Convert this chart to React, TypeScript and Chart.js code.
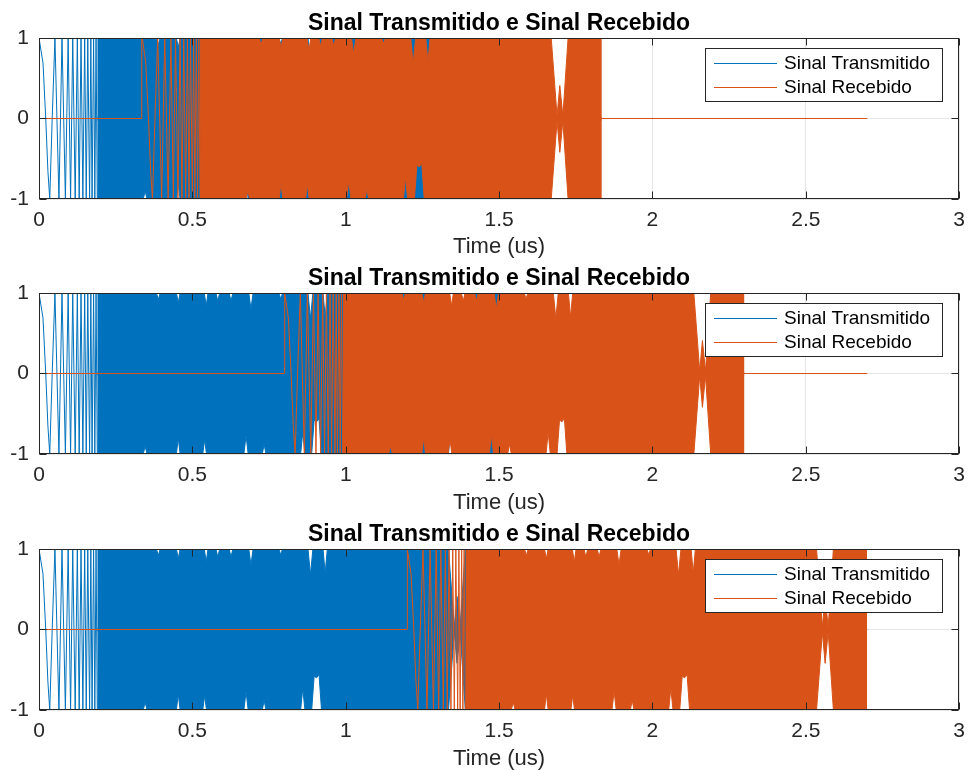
import React, { useEffect, useRef } from "react";
import { Chart, registerables } from "chart.js";

Chart.register(...registerables);

// ---------- text ----------
const panelTitle = "Sinal Transmitido e Sinal Recebido";
const xAxisLabel = "Time (us)";
const seriesNames = ["Sinal Transmitido", "Sinal Recebido"];
const seriesColors = ["#0072BD", "#D95319"];

// ---------- axes ----------
const xTicks = [0, 0.5, 1, 1.5, 2, 2.5, 3];
const yTicks = [-1, 0, 1];

// ---------- signal description ----------
// start time of the received signal in each panel (us)
const receivedDelays = [0.335, 0.8, 1.2];
// length of the transmitted pulse (us) and end of the record (us)
const pulseLength = 1.5;
const recordEnd = 2.7;

// low-frequency beginning of the pulse: time since pulse start (us) and value
const startT = [0, 0.002, 0.013, 0.022, 0.029, 0.035, 0.043, 0.052, 0.065, 0.075, 0.086, 0.095, 0.103, 0.110, 0.118, 0.125, 0.131, 0.137, 0.143, 0.149, 0.154, 0.159, 0.165, 0.169, 0.173, 0.178, 0.182, 0.186, 0.190];
const startV = [1, 1, 0.69, 0, -0.65, -1, 0, 1, -1, 1, -1, 1, -1, 1, -1, 1, -1, 1, -1, 1, -1, 1, -1, 1, -1, 1, -1, 1, -1];

// dense part of the pulse: upper envelope (time since pulse start, value)
const upperT = [0.190, 0.383, 0.389, 0.395, 0.448, 0.454, 0.460, 0.539, 0.545, 0.551, 0.577, 0.583, 0.589, 0.620, 0.626, 0.632, 0.684, 0.691, 0.698, 0.782, 0.788, 0.794, 0.877, 0.885, 0.893, 0.926, 0.933, 0.940, 1.335, 1.354, 1.363, 1.373, 1.390, 1.5];
const upperV = [1, 1, 0.92, 1, 1, 0.88, 1, 1, 0.84, 1, 1, 0.9, 1, 1, 0.9, 1, 1, 0.8, 1, 1, 0.93, 1, 1, 0.68, 1, 1, 0.7, 1, 1, 0.03, 0.41, 0.03, 1, 1];
// dense part of the pulse: lower envelope
const lowerT = [0.190, 0.340, 0.346, 0.352, 0.448, 0.454, 0.460, 0.534, 0.540, 0.546, 0.668, 0.675, 0.682, 0.728, 0.734, 0.740, 0.853, 0.860, 0.867, 0.889, 0.897, 0.905, 0.913, 0.921, 1.335, 1.354, 1.363, 1.373, 1.390, 1.5];
const lowerV = [-1, -1, -0.9, -1, -1, -0.8, -1, -1, -0.82, -1, -1, -0.77, -1, -1, -0.88, -1, -1, -0.73, -1, -1, -0.58, -0.6, -0.56, -1, -1, -0.03, -0.42, -0.03, -1, -1];

// ---------- layout ----------
const FONT = '"Liberation Sans", Arial, Helvetica, sans-serif';
const CANVAS_W = 974;
const AREA_H = 161;
const FILL_OVERLAP = 0.025; // the two halves of the band overlap slightly so no seam shows
const panels = [
  { top: 0, height: 258, padTop: 38 },
  { top: 258, height: 256, padTop: 35 },
  { top: 514, height: 256, padTop: 35 },
];

const shifted = (T: number[], V: number[], d: number) =>
  T.map((t, i) => ({ x: t + d, y: V[i] }));

function buildDatasets(delay: number) {
  const [blue, orange] = seriesColors;
  const base = { pointRadius: 0, borderWidth: 1, tension: 0 };
  return [
    // received (drawn on top)
    { ...base, label: seriesNames[1], order: 0, borderColor: orange, fill: false,
      data: [{ x: 0, y: 0 }, { x: delay, y: 0 }, ...shifted(startT, startV, delay)] },
    { ...base, label: seriesNames[1] + " +", order: 0, borderColor: orange, backgroundColor: orange,
      fill: { value: -FILL_OVERLAP }, data: shifted(upperT, upperV, delay) },
    { ...base, label: seriesNames[1] + " -", order: 0, borderColor: orange, backgroundColor: orange,
      fill: { value: FILL_OVERLAP }, data: shifted(lowerT, lowerV, delay) },
    { ...base, label: seriesNames[1] + " 0", order: 0, borderColor: orange, fill: false,
      data: [{ x: delay + pulseLength, y: 0 }, { x: recordEnd, y: 0 }] },
    // transmitted
    { ...base, label: seriesNames[0], order: 1, borderColor: blue, fill: false,
      data: shifted(startT, startV, 0) },
    { ...base, label: seriesNames[0] + " +", order: 1, borderColor: blue, backgroundColor: blue,
      fill: { value: -FILL_OVERLAP }, data: shifted(upperT, upperV, 0) },
    { ...base, label: seriesNames[0] + " -", order: 1, borderColor: blue, backgroundColor: blue,
      fill: { value: FILL_OVERLAP }, data: shifted(lowerT, lowerV, 0) },
    { ...base, label: seriesNames[0] + " 0", order: 1, borderColor: blue, fill: false,
      data: [{ x: pulseLength, y: 0 }, { x: recordEnd, y: 0 }] },
  ];
}

const matlabDecor = {
  id: "matlabDecor",
  afterDatasetsDraw(chart: any) {
    const { ctx, chartArea: a, scales } = chart;
    ctx.save();
    // axes box
    ctx.strokeStyle = "#262626";
    ctx.lineWidth = 1;
    const L = Math.round(a.left) + 0.5, R = Math.round(a.right) - 0.5;
    const T = Math.round(a.top) + 0.5, B = Math.round(a.bottom) - 0.5;
    ctx.strokeRect(L, T, R - L, B - T);
    // inward ticks
    const tl = 7;
    ctx.beginPath();
    xTicks.forEach((v) => {
      const px = Math.round(scales.x.getPixelForValue(v)) + 0.5;
      ctx.moveTo(px, T); ctx.lineTo(px, T + tl);
      ctx.moveTo(px, B); ctx.lineTo(px, B - tl);
    });
    yTicks.forEach((v) => {
      const py = Math.floor(scales.y.getPixelForValue(v)) + 0.5;
      ctx.moveTo(L, py); ctx.lineTo(L + tl, py);
      ctx.moveTo(R, py); ctx.lineTo(R - tl, py);
    });
    ctx.stroke();
    ctx.restore();
  },
  afterDraw(chart: any) {
    const { ctx, chartArea: a } = chart;
    ctx.save();
    // title
    ctx.font = `bold 23px ${FONT}`;
    ctx.fillStyle = "#000000";
    ctx.textAlign = "center";
    ctx.textBaseline = "alphabetic";
    ctx.fillText(panelTitle, (a.left + a.right) / 2, a.top - 8);
    // legend
    const w = 237, h = 53;
    const bx = Math.round(a.right - 17 - w);
    const by = Math.round(a.top + 10);
    ctx.fillStyle = "#ffffff";
    ctx.fillRect(bx, by, w, h);
    ctx.strokeStyle = "#262626";
    ctx.lineWidth = 1;
    ctx.strokeRect(bx + 0.5, by + 0.5, w, h);
    ctx.font = `19px ${FONT}`;
    ctx.textAlign = "left";
    ctx.textBaseline = "middle";
    seriesNames.forEach((name, i) => {
      const cy = by + 15 + i * 24;
      ctx.fillStyle = seriesColors[i];
      ctx.fillRect(bx + 9, cy, 63, 1);
      ctx.fillStyle = "#000000";
      ctx.fillText(name, bx + 79, cy + 1);
    });
    ctx.restore();
  },
};

function Panel({ index }: { index: number }) {
  const ref = useRef<HTMLCanvasElement | null>(null);
  const p = panels[index];
  useEffect(() => {
    if (!ref.current) return;
    const xAxisH = p.height - p.padTop - AREA_H;
    const chart = new Chart(ref.current, {
      type: "line",
      data: { datasets: buildDatasets(receivedDelays[index]) as any },
      options: {
        animation: false,
        responsive: false,
        devicePixelRatio: 1,
        events: [],
        layout: { padding: { top: p.padTop, right: 6, bottom: 0, left: 0 } },
        plugins: { legend: { display: false }, title: { display: false }, tooltip: { enabled: false } },
        scales: {
          x: {
            type: "linear",
            min: 0,
            max: 3,
            afterBuildTicks: (s: any) => { s.ticks = xTicks.map((v) => ({ value: v })); },
            afterFit: (s: any) => { s.height = xAxisH; },
            ticks: {
              autoSkip: false, maxRotation: 0, padding: 9, color: "#262626",
              font: { size: 21, family: FONT },
              callback: (v: any) => String(v),
            },
            grid: { color: "#e6e6e6", drawTicks: false, lineWidth: 1 },
            border: { display: false },
            title: {
              display: true, text: xAxisLabel, color: "#262626",
              font: { size: 22, family: FONT, lineHeight: 1 },
              padding: 0,
            },
          },
          y: {
            type: "linear",
            min: -1,
            max: 1,
            afterBuildTicks: (s: any) => { s.ticks = yTicks.map((v) => ({ value: v })); },
            afterFit: (s: any) => { s.width = 39; },
            ticks: {
              autoSkip: false, padding: 10, color: "#262626",
              font: { size: 21, family: FONT },
              callback: (v: any) => String(v),
            },
            grid: { color: "#e6e6e6", drawTicks: false, lineWidth: 1 },
            border: { display: false },
          },
        },
      },
      plugins: [matlabDecor],
    } as any);
    return () => chart.destroy();
  }, [index]);
  return (
    <canvas
      ref={ref}
      width={CANVAS_W}
      height={p.height}
      style={{ position: "absolute", left: 0, top: p.top, width: CANVAS_W, height: p.height, display: "block" }}
    />
  );
}

export default function App() {
  return (
    <div style={{ position: "absolute", left: 0, top: 0, width: CANVAS_W, height: 770, background: "#ffffff" }}>
      {panels.map((_, i) => (
        <Panel key={i} index={i} />
      ))}
    </div>
  );
}
